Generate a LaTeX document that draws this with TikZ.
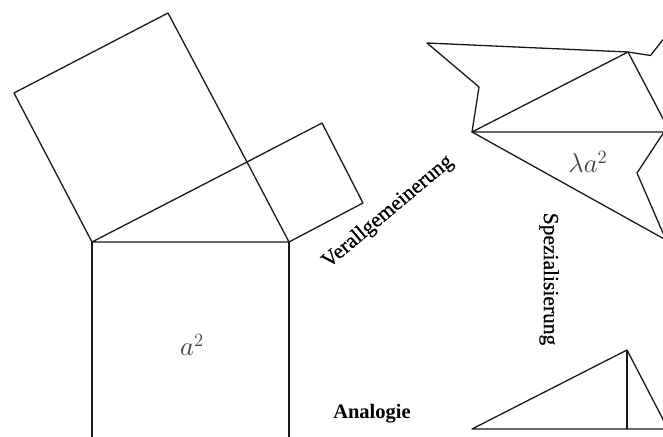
\documentclass[tikz,border=0pt]{standalone}
\usepackage{fontspec}
\setmainfont{Liberation Serif}
\newfontfamily\heavyserif[FakeBold=0.6]{Liberation Serif}
\usepackage{amsmath}
\usepackage{tikz}
\usetikzlibrary{calc}

\begin{document}
\begin{tikzpicture}[
  x=1pt,y=-1pt,
  fig/.style={draw=black!90,line width=1.3pt,line join=round},
  word/.style={inner sep=0pt,font=\heavyserif\fontsize{21.5}{24}\selectfont},
  boldword/.style={inner sep=0pt,font=\fontsize{20.5}{24}\selectfont\bfseries},
  area/.style={inner sep=0pt,text=black!75,font=\huge,scale=1.3,transform shape}
]
\clip (0,0) rectangle (663,436);

% squares on the sides
\coordinate (A) at (92,242);
\coordinate (B) at (289,242);
\coordinate (C) at (247,162);
\coordinate (Aup) at (14,93);
\coordinate (Cup) at (168,13);
\coordinate (Cr) at (322,123);
\coordinate (Br) at (363,203);
\coordinate (Ad) at ($(A)+(0,197)$);
\coordinate (Bd) at ($(B)+(0,197)$);
\draw[fig] (A) -- (B) -- (C) -- cycle;
\draw[fig] (A) -- (Aup) -- (Cup) -- (C);
\draw[fig] (C) -- (Cr) -- (Br) -- (B);
\draw[fig] (A) -- (Ad) -- (Bd) -- (B);
\node[area] (sq) at (192,345) {$a^2$};

% similar figures
\coordinate (P) at (472,132);
\coordinate (Q) at (628,52);
\coordinate (R) at (670,132);
\coordinate (Rh) at (664,132);
\coordinate (D) at (666,240);
\coordinate (N) at (637,173);
\coordinate (F1) at (427,43);
\coordinate (N1) at (479,87);
\coordinate (F3) at (673,27);
\coordinate (N3) at (650.5,55.5);
\draw[fig] (P) -- (Q) -- (R) -- cycle;
\draw[fig] (P) -- (D) -- (N) -- (Rh);
\draw[fig] (Q) -- (F1) -- (N1) -- (P);
\draw[fig] (R) -- (F3) -- (N3) -- (Q);
\node[area] (sim) at (588,162) {$\lambda a^2$};

% altitude on the hypotenuse
\coordinate (P2) at (472,429);
\coordinate (C2) at (627,350);
\coordinate (R2) at (668,429);
\coordinate (H) at (627,429);
\draw[fig] (P2) -- (C2) -- (R2) -- cycle;
\draw[fig] (C2) -- (H);

% labels
\node[word,rotate=40] (gen) at (388,212) {Verallgemeinerung};
\node[word,rotate=-90] (spec) at (549,279) {Spezialisierung};
\node[boldword] (ana) at (372,414) {Analogie};
\end{tikzpicture}
\end{document}
